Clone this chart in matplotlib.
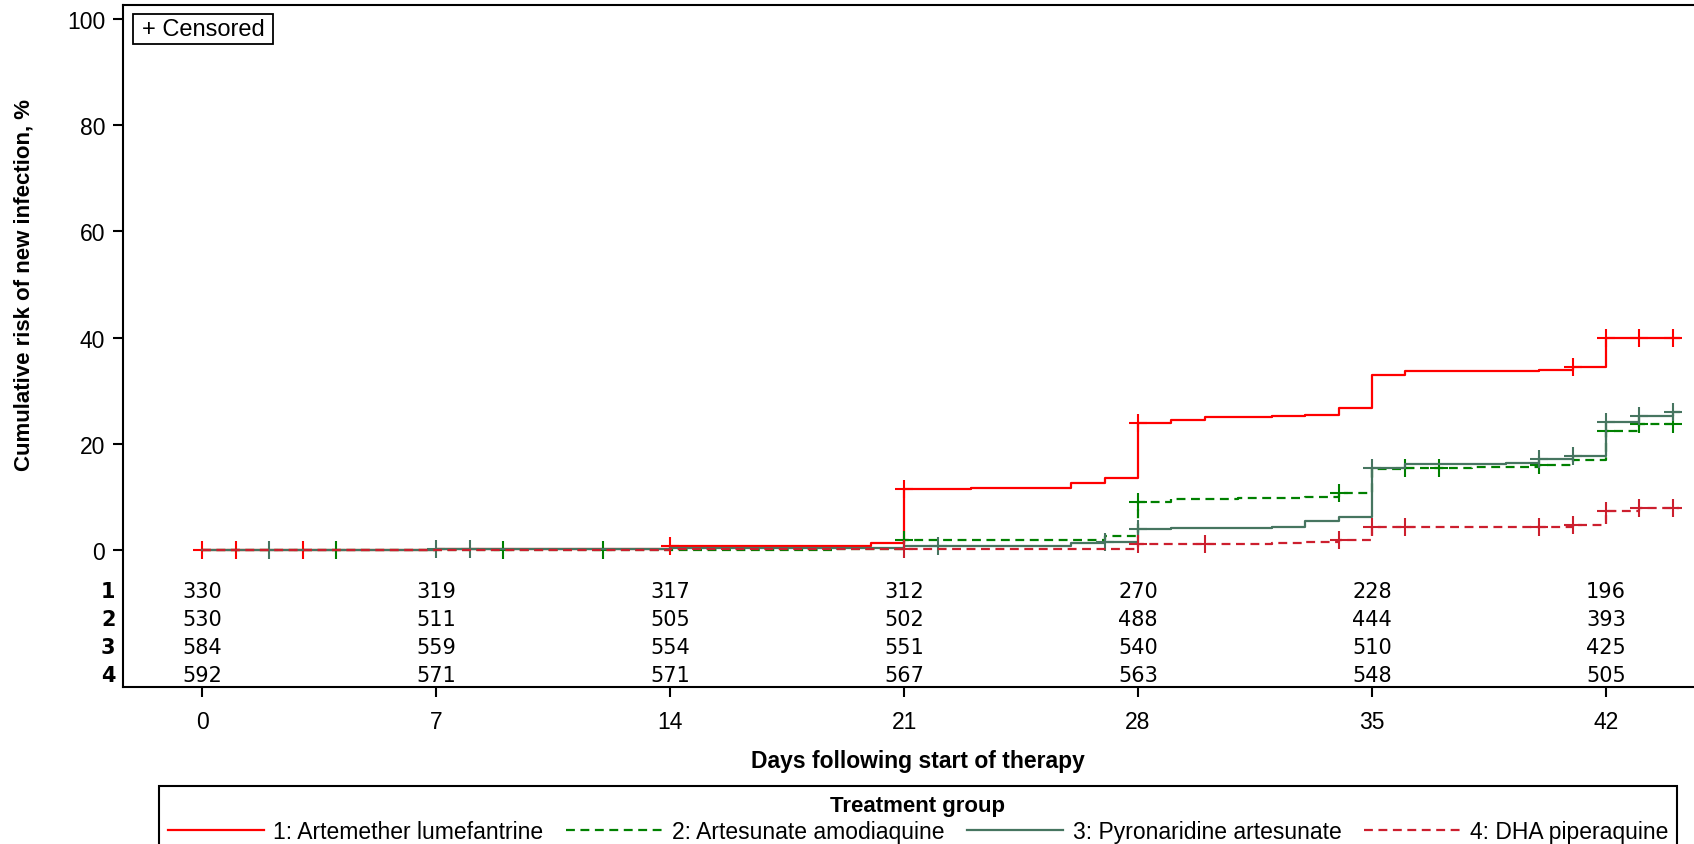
import numpy as np
import matplotlib
matplotlib.use('Agg')
import matplotlib.pyplot as plt
import matplotlib.transforms as mtransforms
from matplotlib.lines import Line2D
from matplotlib.patches import Rectangle

plt.rcParams['font.family'] = ['Liberation Sans', 'DejaVu Sans']

# ---- data ----
groups = ['1: Artemether lumefantrine', '2: Artesunate amodiaquine',
          '3: Pyronaridine artesunate', '4: DHA piperaquine']

# step times (days) and cumulative risk (%) after each step
t1 = [0, 7, 14, 20, 21, 23, 26, 27, 28, 29, 30, 32, 33, 34, 35, 36, 40, 41, 42]
r1 = [0, 0.3, 0.8, 1.3, 11.5, 11.8, 12.6, 13.7, 24.0, 24.6, 25.0, 25.2, 25.5,
      26.8, 33.0, 33.7, 33.9, 34.5, 39.9]
t2 = [0, 19, 21, 27, 28, 29, 31, 33, 34, 35, 36, 38, 40, 41, 42, 43]
r2 = [0, 0.25, 1.9, 2.75, 9.15, 9.65, 9.8, 9.95, 10.7, 15.3, 15.5, 15.7, 16.0,
      16.9, 22.4, 23.8]
t3 = [0, 7, 14, 20, 21, 26, 27, 28, 29, 32, 33, 34, 35, 36, 39, 40, 41, 42, 43, 44]
r3 = [0, 0.2, 0.35, 0.5, 0.9, 1.3, 1.5, 4.0, 4.2, 4.3, 5.45, 6.3, 15.4, 16.2,
      16.5, 17.2, 17.7, 24.1, 25.2, 26.0]
t4 = [0, 14, 28, 32, 33, 34, 35, 41, 42, 43]
r4 = [0, 0.25, 1.2, 1.3, 1.6, 2.0, 4.45, 4.8, 7.45, 7.95]
end_day = 44.2

# censoring times
c1 = [0, 1, 3, 14, 21, 28, 41, 42, 43, 44]
c2 = [4, 9, 12, 21, 28, 34, 36, 37, 40, 42, 43, 44]
c3 = [2, 7, 8, 22, 27, 28, 35, 40, 41, 42, 43, 44]
c4 = [21, 28, 30, 34, 35, 36, 40, 41, 42, 43, 44]

# number at risk
risk_days = [0, 7, 14, 21, 28, 35, 42]
n1 = [330, 319, 317, 312, 270, 228, 196]
n2 = [530, 511, 505, 502, 488, 444, 393]
n3 = [584, 559, 554, 551, 540, 510, 425]
n4 = [592, 571, 571, 567, 563, 548, 505]

colors = ['#ff0000', '#008000', '#467560', '#cc1f2e']
styles = ['-', (0, (4, 2.5)), '-', (0, (4, 2.5))]

W, H = 1694, 845
fig = plt.figure(figsize=(W / 100, H / 100), dpi=100)
ax = fig.add_axes([123.3 / W, 1 - 687.7 / H, 1 - 123.3 / W, (687.7 - 6) / H])

series = [(t1, r1, c1), (t2, r2, c2), (t3, r3, c3), (t4, r4, c4)]
for i in [3, 1, 2, 0]:
    t, r, c = series[i]
    ax.step(t + [end_day], r + [r[-1]], where='post', color=colors[i],
            ls=styles[i], lw=1.6, zorder=3 + i * 0.1)
    idx = np.searchsorted(t, c, side='right') - 1
    cy = np.array(r)[idx]
    ax.plot(c, cy, ls='none', marker='+', ms=13, mew=1.5, color=colors[i],
            zorder=3 + i * 0.1)

ax.set_xlim(-2.364, 44.635)
ax.set_ylim(-25.66, 102.6)
ax.set_xticks(risk_days)
ax.set_yticks(range(0, 101, 20))
ax.tick_params(axis='both', direction='out', length=7, width=1.5, labelsize=16.5)
ax.tick_params(axis='x', pad=10)
ax.tick_params(axis='y', pad=6)
for s in ['left', 'top', 'bottom']:
    ax.spines[s].set_linewidth(1.5)
ax.spines['right'].set_visible(False)

# at-risk table inside the axes, below zero
row_y = [-7.71, -12.93, -18.14, -23.4]
blend = mtransforms.blended_transform_factory(ax.transAxes, ax.transData)
for k, nums in enumerate([n1, n2, n3, n4]):
    ax.text(-0.005, row_y[k], str(k + 1), transform=blend, ha='right', va='center',
            family='DejaVu Sans', fontweight='bold', size=15)
    for d, n in zip(risk_days, nums):
        ax.text(d, row_y[k], str(n), ha='center', va='center',
                family='DejaVu Sans', size=15)

# "+ Censored" box
fig.patches.append(Rectangle((133 / W, 1 - 45 / H), 140 / W, 30 / H, transform=fig.transFigure,
                             fc='white', ec='black', lw=1.3, zorder=5))
fig.text(203 / W, 1 - 30 / H, '+ Censored', ha='center', va='center', size=17, zorder=6)

fig.text(23.7 / W, 1 - 285 / H, 'Cumulative risk of new infection, %', rotation=90,
         ha='center', va='center', fontweight='bold', size=16)
fig.text(918 / W, 1 - 762 / H, 'Days following start of therapy',
         ha='center', va='center', fontweight='bold', size=16.5)

handles = [Line2D([], [], color=colors[i], ls=styles[i], lw=1.6) for i in range(4)]
leg = fig.legend(handles, groups, loc='upper center', bbox_to_anchor=(918 / W, 1 - 787 / H),
                 ncol=4, title='Treatment group',
                 title_fontproperties={'weight': 'bold', 'size': 16}, fontsize=16.5,
                 frameon=True, fancybox=False, edgecolor='black', framealpha=1,
                 handlelength=4.2, handletextpad=0.4, columnspacing=1.0,
                 borderpad=0.4, labelspacing=0.15, borderaxespad=0)
leg.get_frame().set_linewidth(1.5)

fig.savefig('out.png', dpi=100)
